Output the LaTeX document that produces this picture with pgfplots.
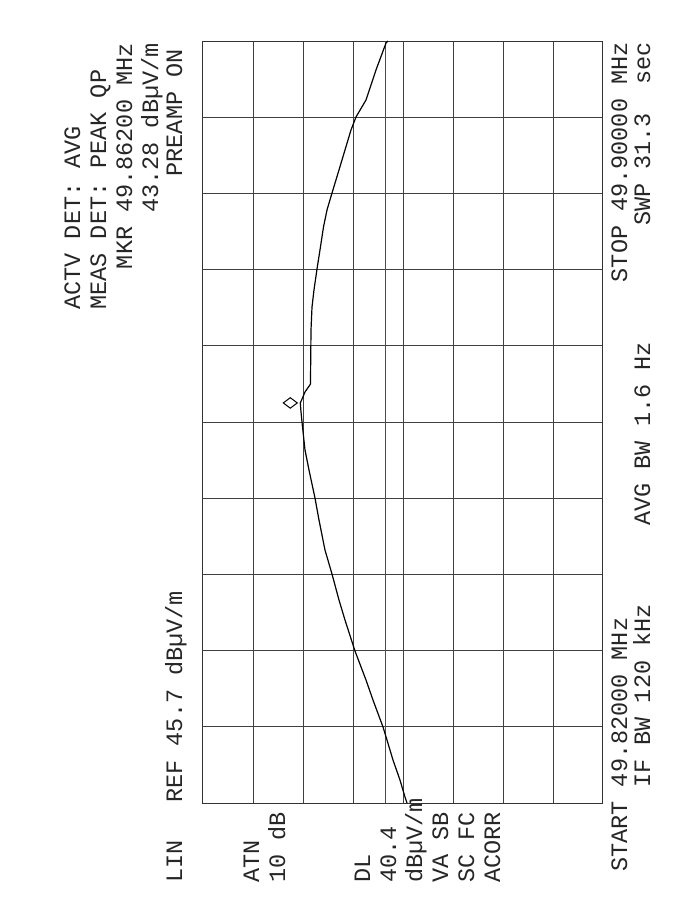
\documentclass[border=0pt]{standalone}
\usepackage{fontspec}
\setmainfont{Liberation Mono}
\newfontfamily\plt{Liberation Mono}
\usepackage{pgfplots}
\pgfplotsset{compat=1.18}

\pgfplotstableread{
V f
94.47 49.82000
95.44 49.82063
97.85 49.82241
101.22 49.82451
104.11 49.82661
106.04 49.82798
110.86 49.83081
114.23 49.83291
119.54 49.83596
124.36 49.83921
127.25 49.84131
130.62 49.84404
134.00 49.84656
136.89 49.84971
138.82 49.85202
141.71 49.85496
143.64 49.85706
145.08 49.86000
145.56 49.86105
145.90 49.86200
144.84 49.86252
143.64 49.86315
141.95 49.86368
140.99 49.86399
140.89 49.86651
140.74 49.86966
140.26 49.87207
139.30 49.87386
137.85 49.87606
136.41 49.87806
134.72 49.88047
133.03 49.88226
130.62 49.88404
127.25 49.88646
124.36 49.88856
121.46 49.89066
119.05 49.89202
114.23 49.89381
109.41 49.89696
104.59 49.89979
103.63 49.90000
}\trace

\begin{document}
\begin{tikzpicture}[x=0.5pt,y=0.5pt,
  lbl/.style={rotate=90, inner sep=0pt, font=\plt\fontsize{11.75}{14}\selectfont, text=black!85}]
\useasboundingbox (0,0) rectangle (697,916);
\begin{axis}[
  at={(101.5pt,56.5pt)}, anchor=south west,
  width=200pt, height=381pt, scale only axis,
  xmin=0, xmax=192.8, x dir=reverse,
  ymin=49.82, ymax=49.90,
  xtick={24.1,48.2,72.3,96.4,120.5,144.6,168.7},
  ytick={49.828,49.836,49.844,49.852,49.86,49.868,49.876,49.884,49.892},
  xticklabels={}, yticklabels={},
  major tick length=0pt,
  grid=major,
  grid style={black!75, line width=0.45pt},
  axis line style={black!80, line width=0.5pt},
  clip=false,
]
\addplot[black!70, line width=0.45pt] coordinates {(104.7,49.82) (104.7,49.90)};
\addplot[black, line width=0.6pt] table[x=V,y=f] {\trace};
\addplot[only marks, mark=diamond, mark size=3.5pt,
  mark options={xshift=-5pt, rotate=90, black, line width=0.5pt, fill=white}] coordinates {(145.9,49.862)};
\end{axis}

% left column (top of original)
\node[lbl, anchor=base west] at (182,33) {LIN};
\node[lbl, anchor=base west] at (182,113) {REF 45.7 dBµV/m};
\node[lbl, anchor=base east] at (182,867) {PREAMP ON};
% header
\node[lbl, anchor=base west] at (80,606) {ACTV DET: AVG};
\node[lbl, anchor=base west] at (106,606) {MEAS DET: PEAK QP};
\node[lbl, anchor=base east] at (132,873) {MKR 49.86200 MHz};
\node[lbl, anchor=base east] at (158,873) {43.28 dBµV/m};
% side column (left of original)
\node[lbl, anchor=base west] at (259,33) {ATN};
\node[lbl, anchor=base west] at (285,33) {10 dB};
\node[lbl, anchor=base west] at (370,33) {DL};
\node[lbl, anchor=base west] at (396,33) {40.4};
\node[lbl, anchor=base west] at (422,33) {dBµV/m};
\node[lbl, anchor=base west] at (448,33) {VA SB};
\node[lbl, anchor=base west] at (474,33) {SC FC};
\node[lbl, anchor=base west] at (500,33) {ACORR};
% bottom rows (right of image)
\node[lbl, anchor=base west] at (627,44) {START 49.82000 MHz};
\node[lbl, anchor=base] at (650,220) {IF BW 120 kHz};
\node[lbl, anchor=base west] at (650,390) {AVG BW 1.6 Hz};
\node[lbl, anchor=base east] at (627,874) {STOP 49.90000 MHz};
\node[lbl, anchor=base east] at (650,874) {SWP 31.3~~sec};
\end{tikzpicture}
\end{document}
